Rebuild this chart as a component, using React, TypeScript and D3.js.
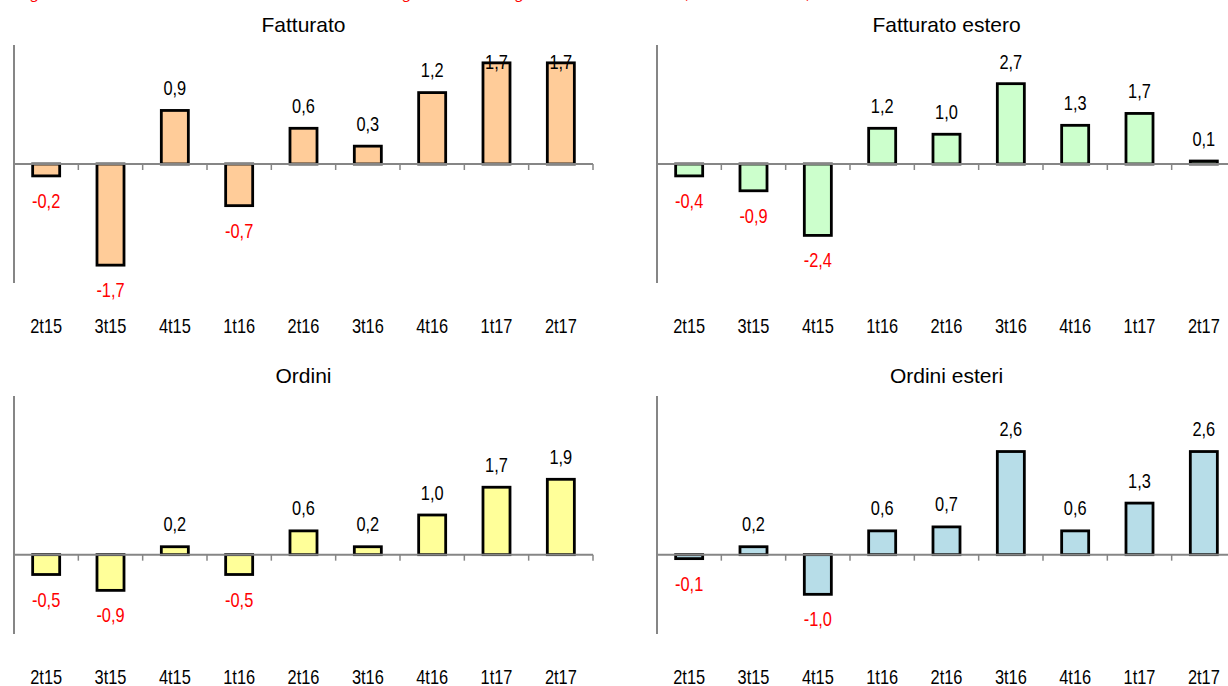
import React, { useEffect } from "react";
import * as d3 from "d3";

const categories = ["2t15", "3t15", "4t15", "1t16", "2t16", "3t16", "4t16", "1t17", "2t17"];
const fatturato = [-0.2, -1.7, 0.9, -0.7, 0.6, 0.3, 1.2, 1.7, 1.7];
const fatturatoEstero = [-0.4, -0.9, -2.4, 1.2, 1.0, 2.7, 1.3, 1.7, 0.1];
const ordini = [-0.5, -0.9, 0.2, -0.5, 0.6, 0.2, 1.0, 1.7, 1.9];
const ordiniEsteri = [-0.1, 0.2, -1.0, 0.6, 0.7, 2.6, 0.6, 1.3, 2.6];

const panelTitles = ["Fatturato", "Fatturato estero", "Ordini", "Ordini esteri"];
const topNote =
  "Congiuntura dell'industria manifatturiera: variazioni congiunturali destagionalizzate di fatturato, fatturato estero, ordini e ordini esteri";

type Panel = {
  title: string;
  values: number[];
  fill: string;
  domain: [number, number];
  x0: number;
  x1: number;
  top: number;
  bottom: number;
};

const panels: Panel[] = [
  { title: panelTitles[0], values: fatturato, fill: "#FFCC99", domain: [-2, 2], x0: 14, x1: 593, top: 45, bottom: 283 },
  { title: panelTitles[1], values: fatturatoEstero, fill: "#CCFFCC", domain: [-4, 4], x0: 657, x1: 1236, top: 45, bottom: 283 },
  { title: panelTitles[2], values: ordini, fill: "#FFFF99", domain: [-2, 4], x0: 14, x1: 593, top: 396, bottom: 634 },
  { title: panelTitles[3], values: ordiniEsteri, fill: "#B7DDE8", domain: [-2, 4], x0: 657, x1: 1236, top: 396, bottom: 634 },
];

const sans = "'Liberation Sans', Arial, sans-serif";
const fmt = (v: number) => v.toFixed(1).replace(".", ",");

function NarrowText({ x, y, fill, children }: { x: number; y: number; fill: string; children: React.ReactNode }) {
  return (
    <text
      transform={`translate(${x},${y}) scale(0.82,1)`}
      textAnchor="middle"
      fontFamily={sans}
      fontSize={20}
      fill={fill}
    >
      {children}
    </text>
  );
}

function ChartPanel({ p }: { p: Panel }) {
  const x = d3.scaleBand<string>().domain(categories).range([p.x0, p.x1]).padding(0);
  const y = d3.scaleLinear().domain(p.domain).range([p.bottom, p.top]);
  const y0 = y(0);
  const bw = x.bandwidth() * 0.42;
  const step = x.step();
  return (
    <g>
      <text x={(p.x0 + p.x1) / 2} y={p.top - 13} textAnchor="middle" fontFamily={sans} fontSize={21} fill="#000">
        {p.title}
      </text>
      {p.values.map((v, i) => {
        const cx = (x(categories[i]) as number) + x.bandwidth() / 2;
        const yv = y(v);
        return (
          <rect
            key={"b" + i}
            x={cx - bw / 2}
            y={Math.min(yv, y0)}
            width={bw}
            height={Math.abs(yv - y0)}
            fill={p.fill}
            stroke="#000"
            strokeWidth={2.8}
          />
        );
      })}
      <line x1={p.x0} x2={p.x0} y1={p.top} y2={p.bottom} stroke="#868686" strokeWidth={2} />
      <line x1={p.x0} x2={p.x1} y1={y0} y2={y0} stroke="#868686" strokeWidth={2} />
      {d3.range(categories.length + 1).map((i) => (
        <line key={"t" + i} x1={p.x0 + i * step} x2={p.x0 + i * step} y1={y0} y2={y0 + 6} stroke="#868686" strokeWidth={1.5} />
      ))}
      {p.values.map((v, i) => {
        const cx = (x(categories[i]) as number) + x.bandwidth() / 2;
        const yv = y(v);
        const ly = v >= 0 ? Math.max(yv - 15.5, p.top + 24) : yv + 32;
        return (
          <NarrowText key={"l" + i} x={cx} y={ly} fill={v >= 0 ? "#000" : "#FF0000"}>
            {fmt(v)}
          </NarrowText>
        );
      })}
      {categories.map((c) => (
        <NarrowText key={"c" + c} x={(x(c) as number) + x.bandwidth() / 2} y={p.bottom + 50} fill="#000">
          {c}
        </NarrowText>
      ))}
    </g>
  );
}

export default function App() {
  useEffect(() => {
    document.body.style.margin = "0";
  }, []);
  return (
    <svg width={1228} height={686} style={{ display: "block", background: "#fff" }}>
      <rect x={0} y={0} width={1228} height={686} fill="#fff" />
      <text x={0} y={-1.5} fontFamily={sans} fontStyle="italic" fontSize={15} fill="#FF0000" textLength={960} lengthAdjust="spacingAndGlyphs">
        {topNote}
      </text>
      {panels.map((p, i) => (
        <ChartPanel key={i} p={p} />
      ))}
    </svg>
  );
}
